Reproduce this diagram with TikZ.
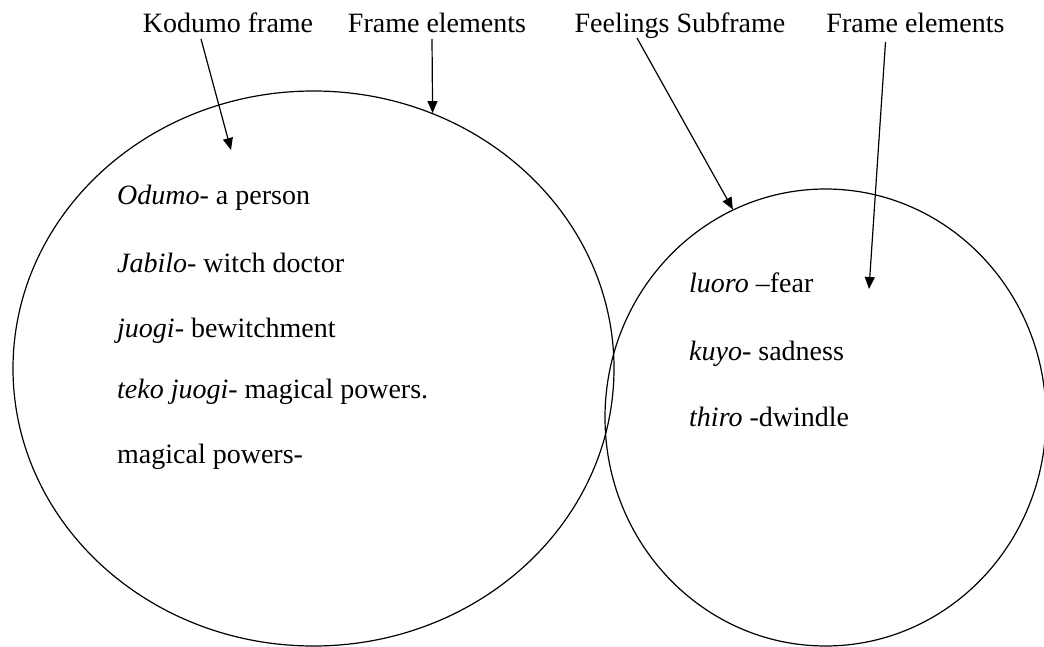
\documentclass[tikz,border=0pt]{standalone}
\usepackage{fontspec}
\setmainfont{Liberation Serif}
\usetikzlibrary{shapes.geometric,arrows.meta}
\begin{document}
\begin{tikzpicture}[x=1pt,y=-1pt,
  txt/.style={inner sep=0pt, font=\fontsize{28}{34}\selectfont},
  frameset/.style={draw, ellipse, line width=1.2pt, inner sep=0pt},
  arr/.style={line width=1.2pt, -{Triangle[width=10pt,length=12pt]}}]
\useasboundingbox (0,0) rectangle (1044,647);

% the two frames
\node[frameset, minimum width=601pt, minimum height=555pt] (kodumoset) at (313.5,368.5) {};
\node[frameset, minimum width=441pt, minimum height=457pt] (feelset) at (825.5,417.5) {};

% headings
\node[txt, anchor=base] (lkodumo) at (228,33) {Kodumo frame};
\node[txt, anchor=base] (lfeA) at (437,33) {Frame elements};
\node[txt, anchor=base] (lfeel) at (680,33) {Feelings Subframe};
\node[txt, anchor=base] (lfeB) at (915.5,33) {Frame elements};

% pointers
\coordinate (tkodumo) at (231,150);
\coordinate (tfeB) at (869,289);
\draw[arr] ([shift={(-27,6)}]lkodumo.base) -- (tkodumo);
\draw[arr] ([shift={(-5,6)}]lfeA.base) -- (kodumoset.65);
\draw[arr] ([shift={(-43,5)}]lfeel.base) -- (feelset.114);
\draw[arr] ([shift={(-30,9)}]lfeB.base) -- (tfeB);

% Kodumo frame elements
\node[txt, anchor=base west] (k1) at (117,205) {\textit{Odumo}- a person};
\node[txt, anchor=base west] (k2) at (117,272) {\textit{Jabilo}- witch doctor};
\node[txt, anchor=base west] (k3) at (117,337) {\textit{juogi}- bewitchment};
\node[txt, anchor=base west] (k4) at (117,398) {\textit{teko juogi}- magical powers.};
\node[txt, anchor=base west] (k5) at (117,463) {magical powers-};

% Feelings subframe elements
\node[txt, anchor=base west] (f1) at (689,292) {\textit{luoro} –fear};
\node[txt, anchor=base west] (f2) at (689,360) {\textit{kuyo}- sadness};
\node[txt, anchor=base west] (f3) at (689,426) {\textit{thiro} -dwindle};
\end{tikzpicture}
\end{document}
